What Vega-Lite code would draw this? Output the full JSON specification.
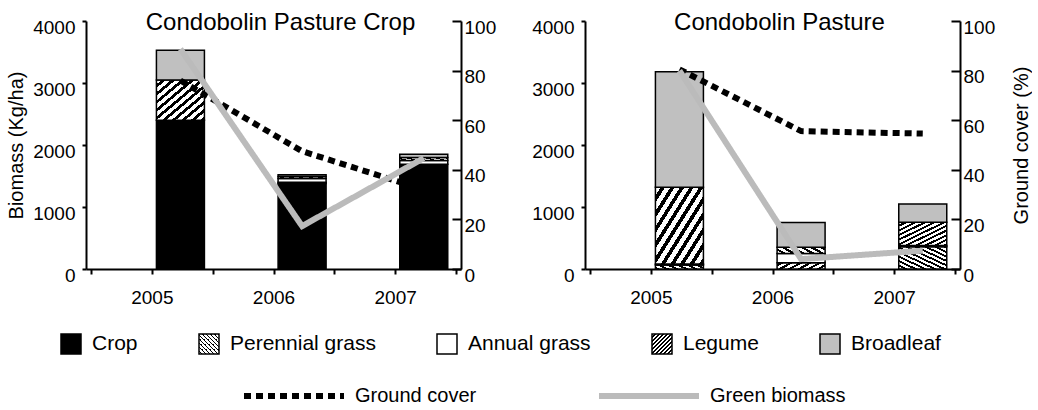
{
  "$schema": "https://vega.github.io/schema/vega-lite/v6.json",
  "padding": {"left": 6, "top": 11, "right": 0, "bottom": 0},
  "background": "white",
  "spacing": 35,
  "config": {
    "font": "Liberation Sans",
    "view": {"stroke": null},
    "axis": {"domainColor": "black", "domainWidth": 2, "tickColor": "black", "tickWidth": 2, "labelColor": "black", "labelFontSize": 19, "titleFontSize": 20, "titleFontWeight": "normal", "titleColor": "black", "grid": false, "labelOverlap": false, "labelFlush": false},
    "legend": {"labelFontSize": 21, "labelColor": "black"},
    "title": {"fontSize": 24, "fontWeight": "normal", "color": "black"}
  },
  "datasets": {
    "bars": [
      {"site": "Crop", "year": 2005, "type": "Crop", "biomass": 2400},
      {"site": "Crop", "year": 2005, "type": "Legume", "biomass": 650},
      {"site": "Crop", "year": 2005, "type": "Broadleaf", "biomass": 480},
      {"site": "Crop", "year": 2006, "type": "Crop", "biomass": 1380},
      {"site": "Crop", "year": 2006, "type": "Perennial grass", "biomass": 20},
      {"site": "Crop", "year": 2006, "type": "Annual grass", "biomass": 60},
      {"site": "Crop", "year": 2006, "type": "Legume", "biomass": 30},
      {"site": "Crop", "year": 2006, "type": "Broadleaf", "biomass": 30},
      {"site": "Crop", "year": 2007, "type": "Crop", "biomass": 1690},
      {"site": "Crop", "year": 2007, "type": "Annual grass", "biomass": 60},
      {"site": "Crop", "year": 2007, "type": "Legume", "biomass": 50},
      {"site": "Crop", "year": 2007, "type": "Broadleaf", "biomass": 50},
      {"site": "Pasture", "year": 2005, "type": "Perennial grass", "biomass": 65},
      {"site": "Pasture", "year": 2005, "type": "Annual grass", "biomass": 15},
      {"site": "Pasture", "year": 2005, "type": "Legume", "biomass": 1237},
      {"site": "Pasture", "year": 2005, "type": "Broadleaf", "biomass": 1863},
      {"site": "Pasture", "year": 2006, "type": "Perennial grass", "biomass": 100},
      {"site": "Pasture", "year": 2006, "type": "Annual grass", "biomass": 150},
      {"site": "Pasture", "year": 2006, "type": "Legume", "biomass": 100},
      {"site": "Pasture", "year": 2006, "type": "Broadleaf", "biomass": 400},
      {"site": "Pasture", "year": 2007, "type": "Perennial grass", "biomass": 360},
      {"site": "Pasture", "year": 2007, "type": "Annual grass", "biomass": 20},
      {"site": "Pasture", "year": 2007, "type": "Legume", "biomass": 375},
      {"site": "Pasture", "year": 2007, "type": "Broadleaf", "biomass": 295}
    ],
    "lines": [
      {"site": "Crop", "year": 2005, "series": "Ground cover", "cover": 76},
      {"site": "Crop", "year": 2006, "series": "Ground cover", "cover": 47.5},
      {"site": "Crop", "year": 2007, "series": "Ground cover", "cover": 32},
      {"site": "Crop", "year": 2005, "series": "Green biomass", "cover": 88.7},
      {"site": "Crop", "year": 2006, "series": "Green biomass", "cover": 17.3},
      {"site": "Crop", "year": 2007, "series": "Green biomass", "cover": 44.7},
      {"site": "Pasture", "year": 2005, "series": "Ground cover", "cover": 80.5},
      {"site": "Pasture", "year": 2006, "series": "Ground cover", "cover": 55.6},
      {"site": "Pasture", "year": 2007, "series": "Ground cover", "cover": 54.6},
      {"site": "Pasture", "year": 2005, "series": "Green biomass", "cover": 80},
      {"site": "Pasture", "year": 2006, "series": "Green biomass", "cover": 4},
      {"site": "Pasture", "year": 2007, "series": "Green biomass", "cover": 7.4}
    ]
  },
  "hconcat": [
    {
      "width": 375,
      "height": 248,
      "title": {"text": "Condobolin Pasture Crop", "anchor": "middle", "frame": "group", "baseline": "alphabetic", "offset": -8, "dx": 7, "dy": 28},
      "encoding": {
        "x": {"field": "year", "type": "quantitative", "scale": {"domain": [2004.265, 2007.265], "nice": false, "zero": false},
          "axis": {"title": null, "values": [2004.265, 2004.765, 2005.265, 2005.765, 2006.265, 2006.765, 2007.265], "labelExpr": "abs(datum.value-2004.765)<0.01 ? '2005' : abs(datum.value-2005.765)<0.01 ? '2006' : abs(datum.value-2006.765)<0.01 ? '2007' : ''", "tickSize": 5, "labelPadding": 14, "labelAngle": 0}}
      },
      "layer": [
        {
          "data": {"name": "bars"},
          "transform": [{"filter": "datum.site === 'Crop'"}, {"calculate": "indexof(['Crop','Perennial grass','Annual grass','Legume','Broadleaf'], datum.type)", "as": "stackorder"}],
          "mark": {"type": "bar", "width": 48, "stroke": "black", "strokeWidth": 1.5},
          "encoding": {
            "y": {"field": "biomass", "type": "quantitative", "stack": "zero", "scale": {"domain": [0, 4000], "nice": false},
              "axis": {"orient": "left", "title": "Biomass (Kg/ha)", "format": "d", "values": [0, 1000, 2000, 3000, 4000], "tickSize": 4, "labelPadding": 7, "labelBaseline": "middle", "labelOffset": 6, "titlePadding": 6}},
            "order": {"field": "stackorder", "type": "quantitative", "sort": "ascending"},
            "fill": {
              "field": "type", "type": "nominal",
              "scale": {"domain": ["Crop", "Perennial grass", "Annual grass", "Legume", "Broadleaf"], "range": [
                "black",
                {"expr": "{'gradient':'linear','x1':0,'y1':1,'x2':1,'y2':0,'stops':[{'offset':0,'color':'white'},{'offset':0.055,'color':'white'},{'offset':0.055,'color':'black'},{'offset':0.1,'color':'black'},{'offset':0.1,'color':'white'},{'offset':0.155,'color':'white'},{'offset':0.155,'color':'black'},{'offset':0.2,'color':'black'},{'offset':0.2,'color':'white'},{'offset':0.255,'color':'white'},{'offset':0.255,'color':'black'},{'offset':0.3,'color':'black'},{'offset':0.3,'color':'white'},{'offset':0.355,'color':'white'},{'offset':0.355,'color':'black'},{'offset':0.4,'color':'black'},{'offset':0.4,'color':'white'},{'offset':0.455,'color':'white'},{'offset':0.455,'color':'black'},{'offset':0.5,'color':'black'},{'offset':0.5,'color':'white'},{'offset':0.555,'color':'white'},{'offset':0.555,'color':'black'},{'offset':0.6,'color':'black'},{'offset':0.6,'color':'white'},{'offset':0.655,'color':'white'},{'offset':0.655,'color':'black'},{'offset':0.7,'color':'black'},{'offset':0.7,'color':'white'},{'offset':0.755,'color':'white'},{'offset':0.755,'color':'black'},{'offset':0.8,'color':'black'},{'offset':0.8,'color':'white'},{'offset':0.855,'color':'white'},{'offset':0.855,'color':'black'},{'offset':0.9,'color':'black'},{'offset':0.9,'color':'white'},{'offset':0.955,'color':'white'},{'offset':0.955,'color':'black'},{'offset':1,'color':'black'}]}"},
                "white",
                {"expr": "{'gradient':'linear','x1':0,'y1':0,'x2':1,'y2':1,'stops':[{'offset':0,'color':'white'},{'offset':0.055,'color':'white'},{'offset':0.055,'color':'black'},{'offset':0.1,'color':'black'},{'offset':0.1,'color':'white'},{'offset':0.155,'color':'white'},{'offset':0.155,'color':'black'},{'offset':0.2,'color':'black'},{'offset':0.2,'color':'white'},{'offset':0.255,'color':'white'},{'offset':0.255,'color':'black'},{'offset':0.3,'color':'black'},{'offset':0.3,'color':'white'},{'offset':0.355,'color':'white'},{'offset':0.355,'color':'black'},{'offset':0.4,'color':'black'},{'offset':0.4,'color':'white'},{'offset':0.455,'color':'white'},{'offset':0.455,'color':'black'},{'offset':0.5,'color':'black'},{'offset':0.5,'color':'white'},{'offset':0.555,'color':'white'},{'offset':0.555,'color':'black'},{'offset':0.6,'color':'black'},{'offset':0.6,'color':'white'},{'offset':0.655,'color':'white'},{'offset':0.655,'color':'black'},{'offset':0.7,'color':'black'},{'offset':0.7,'color':'white'},{'offset':0.755,'color':'white'},{'offset':0.755,'color':'black'},{'offset':0.8,'color':'black'},{'offset':0.8,'color':'white'},{'offset':0.855,'color':'white'},{'offset':0.855,'color':'black'},{'offset':0.9,'color':'black'},{'offset':0.9,'color':'white'},{'offset':0.955,'color':'white'},{'offset':0.955,'color':'black'},{'offset':1,'color':'black'}]}"},
                "#c0c0c0"
              ]},
              "legend": {"orient": "none", "legendX": -26, "legendY": 312, "direction": "horizontal", "columns": 5, "gridAlign": "none", "columnPadding": 58, "symbolType": "square", "symbolSize": 400, "symbolStrokeColor": "black", "symbolStrokeWidth": 1.5, "symbolOpacity": 1, "labelOffset": 10, "labelFontSize": 21, "labelLimit": 400, "title": null}
            }
          }
        },
        {
          "data": {"name": "lines"},
          "transform": [{"filter": "datum.site === 'Crop'"}],
          "mark": {"type": "line", "strokeWidth": 6, "strokeJoin": "miter", "strokeCap": "butt"},
          "encoding": {
            "y": {"field": "cover", "type": "quantitative", "scale": {"domain": [0, 100], "nice": false},
              "axis": {"orient": "right", "title": null, "format": "d", "values": [0, 20, 40, 60, 80, 100], "tickSize": -9, "labelPadding": 12, "labelBaseline": "middle", "labelOffset": 6}},
            "stroke": {"field": "series", "type": "nominal", "scale": {"domain": ["Ground cover", "Green biomass"], "range": ["black", "#bbbbbb"]},
              "legend": {"orient": "none", "legendX": 155, "legendY": 322, "direction": "horizontal", "columns": 2, "gridAlign": "none", "columnPadding": 110, "symbolType": "stroke", "symbolSize": 10000, "symbolStrokeWidth": 6, "labelOffset": 8, "labelFontSize": 20, "title": null}},
            "strokeDash": {"field": "series", "type": "nominal", "scale": {"domain": ["Ground cover", "Green biomass"], "range": [[7, 5], [1, 0]]},
              "legend": {"orient": "none", "legendX": 155, "legendY": 322, "direction": "horizontal", "columns": 2, "gridAlign": "none", "columnPadding": 110, "symbolType": "stroke", "symbolSize": 10000, "symbolStrokeWidth": 6, "labelOffset": 8, "labelFontSize": 20, "title": null}}
          }
        }
      ],
      "resolve": {"scale": {"y": "independent"}}
    },
    {
      "width": 375,
      "height": 248,
      "title": {"text": "Condobolin Pasture", "anchor": "middle", "frame": "group", "baseline": "alphabetic", "offset": -8, "dx": 7, "dy": 28},
      "encoding": {
        "x": {"field": "year", "type": "quantitative", "scale": {"domain": [2004.265, 2007.265], "nice": false, "zero": false},
          "axis": {"title": null, "values": [2004.265, 2004.765, 2005.265, 2005.765, 2006.265, 2006.765, 2007.265], "labelExpr": "abs(datum.value-2004.765)<0.01 ? '2005' : abs(datum.value-2005.765)<0.01 ? '2006' : abs(datum.value-2006.765)<0.01 ? '2007' : ''", "tickSize": 5, "labelPadding": 14, "labelAngle": 0}}
      },
      "layer": [
        {
          "data": {"name": "bars"},
          "transform": [{"filter": "datum.site === 'Pasture'"}, {"calculate": "indexof(['Crop','Perennial grass','Annual grass','Legume','Broadleaf'], datum.type)", "as": "stackorder"}],
          "mark": {"type": "bar", "width": 48, "stroke": "black", "strokeWidth": 1.5},
          "encoding": {
            "y": {"field": "biomass", "type": "quantitative", "stack": "zero", "scale": {"domain": [0, 4000], "nice": false},
              "axis": {"orient": "left", "title": null, "format": "d", "values": [0, 1000, 2000, 3000, 4000], "tickSize": 4, "labelPadding": 7, "labelBaseline": "middle", "labelOffset": 6}},
            "order": {"field": "stackorder", "type": "quantitative", "sort": "ascending"},
            "fill": {
              "field": "type", "type": "nominal",
              "scale": {"domain": ["Crop", "Perennial grass", "Annual grass", "Legume", "Broadleaf"], "range": [
                "black",
                {"expr": "{'gradient':'linear','x1':0,'y1':1,'x2':1,'y2':0,'stops':[{'offset':0,'color':'white'},{'offset':0.055,'color':'white'},{'offset':0.055,'color':'black'},{'offset':0.1,'color':'black'},{'offset':0.1,'color':'white'},{'offset':0.155,'color':'white'},{'offset':0.155,'color':'black'},{'offset':0.2,'color':'black'},{'offset':0.2,'color':'white'},{'offset':0.255,'color':'white'},{'offset':0.255,'color':'black'},{'offset':0.3,'color':'black'},{'offset':0.3,'color':'white'},{'offset':0.355,'color':'white'},{'offset':0.355,'color':'black'},{'offset':0.4,'color':'black'},{'offset':0.4,'color':'white'},{'offset':0.455,'color':'white'},{'offset':0.455,'color':'black'},{'offset':0.5,'color':'black'},{'offset':0.5,'color':'white'},{'offset':0.555,'color':'white'},{'offset':0.555,'color':'black'},{'offset':0.6,'color':'black'},{'offset':0.6,'color':'white'},{'offset':0.655,'color':'white'},{'offset':0.655,'color':'black'},{'offset':0.7,'color':'black'},{'offset':0.7,'color':'white'},{'offset':0.755,'color':'white'},{'offset':0.755,'color':'black'},{'offset':0.8,'color':'black'},{'offset':0.8,'color':'white'},{'offset':0.855,'color':'white'},{'offset':0.855,'color':'black'},{'offset':0.9,'color':'black'},{'offset':0.9,'color':'white'},{'offset':0.955,'color':'white'},{'offset':0.955,'color':'black'},{'offset':1,'color':'black'}]}"},
                "white",
                {"expr": "{'gradient':'linear','x1':0,'y1':0,'x2':1,'y2':1,'stops':[{'offset':0,'color':'white'},{'offset':0.055,'color':'white'},{'offset':0.055,'color':'black'},{'offset':0.1,'color':'black'},{'offset':0.1,'color':'white'},{'offset':0.155,'color':'white'},{'offset':0.155,'color':'black'},{'offset':0.2,'color':'black'},{'offset':0.2,'color':'white'},{'offset':0.255,'color':'white'},{'offset':0.255,'color':'black'},{'offset':0.3,'color':'black'},{'offset':0.3,'color':'white'},{'offset':0.355,'color':'white'},{'offset':0.355,'color':'black'},{'offset':0.4,'color':'black'},{'offset':0.4,'color':'white'},{'offset':0.455,'color':'white'},{'offset':0.455,'color':'black'},{'offset':0.5,'color':'black'},{'offset':0.5,'color':'white'},{'offset':0.555,'color':'white'},{'offset':0.555,'color':'black'},{'offset':0.6,'color':'black'},{'offset':0.6,'color':'white'},{'offset':0.655,'color':'white'},{'offset':0.655,'color':'black'},{'offset':0.7,'color':'black'},{'offset':0.7,'color':'white'},{'offset':0.755,'color':'white'},{'offset':0.755,'color':'black'},{'offset':0.8,'color':'black'},{'offset':0.8,'color':'white'},{'offset':0.855,'color':'white'},{'offset':0.855,'color':'black'},{'offset':0.9,'color':'black'},{'offset':0.9,'color':'white'},{'offset':0.955,'color':'white'},{'offset':0.955,'color':'black'},{'offset':1,'color':'black'}]}"},
                "#c0c0c0"
              ]},
              "legend": {"orient": "none", "legendX": -26, "legendY": 312, "direction": "horizontal", "columns": 5, "gridAlign": "none", "columnPadding": 58, "symbolType": "square", "symbolSize": 400, "symbolStrokeColor": "black", "symbolStrokeWidth": 1.5, "symbolOpacity": 1, "labelOffset": 10, "labelFontSize": 21, "labelLimit": 400, "title": null}
            }
          }
        },
        {
          "data": {"name": "lines"},
          "transform": [{"filter": "datum.site === 'Pasture'"}],
          "mark": {"type": "line", "strokeWidth": 6, "strokeJoin": "miter", "strokeCap": "butt"},
          "encoding": {
            "y": {"field": "cover", "type": "quantitative", "scale": {"domain": [0, 100], "nice": false},
              "axis": {"orient": "right", "title": "Ground cover (%)", "format": "d", "values": [0, 20, 40, 60, 80, 100], "tickSize": -9, "labelPadding": 12, "labelBaseline": "middle", "labelOffset": 6, "titleAngle": 270, "titleBaseline": "top", "titlePadding": 17}},
            "stroke": {"field": "series", "type": "nominal", "scale": {"domain": ["Ground cover", "Green biomass"], "range": ["black", "#bbbbbb"]},
              "legend": {"orient": "none", "legendX": 155, "legendY": 322, "direction": "horizontal", "columns": 2, "gridAlign": "none", "columnPadding": 110, "symbolType": "stroke", "symbolSize": 10000, "symbolStrokeWidth": 6, "labelOffset": 8, "labelFontSize": 20, "title": null}},
            "strokeDash": {"field": "series", "type": "nominal", "scale": {"domain": ["Ground cover", "Green biomass"], "range": [[7, 5], [1, 0]]},
              "legend": {"orient": "none", "legendX": 155, "legendY": 322, "direction": "horizontal", "columns": 2, "gridAlign": "none", "columnPadding": 110, "symbolType": "stroke", "symbolSize": 10000, "symbolStrokeWidth": 6, "labelOffset": 8, "labelFontSize": 20, "title": null}}
          }
        }
      ],
      "resolve": {"scale": {"y": "independent"}}
    }
  ]
}
